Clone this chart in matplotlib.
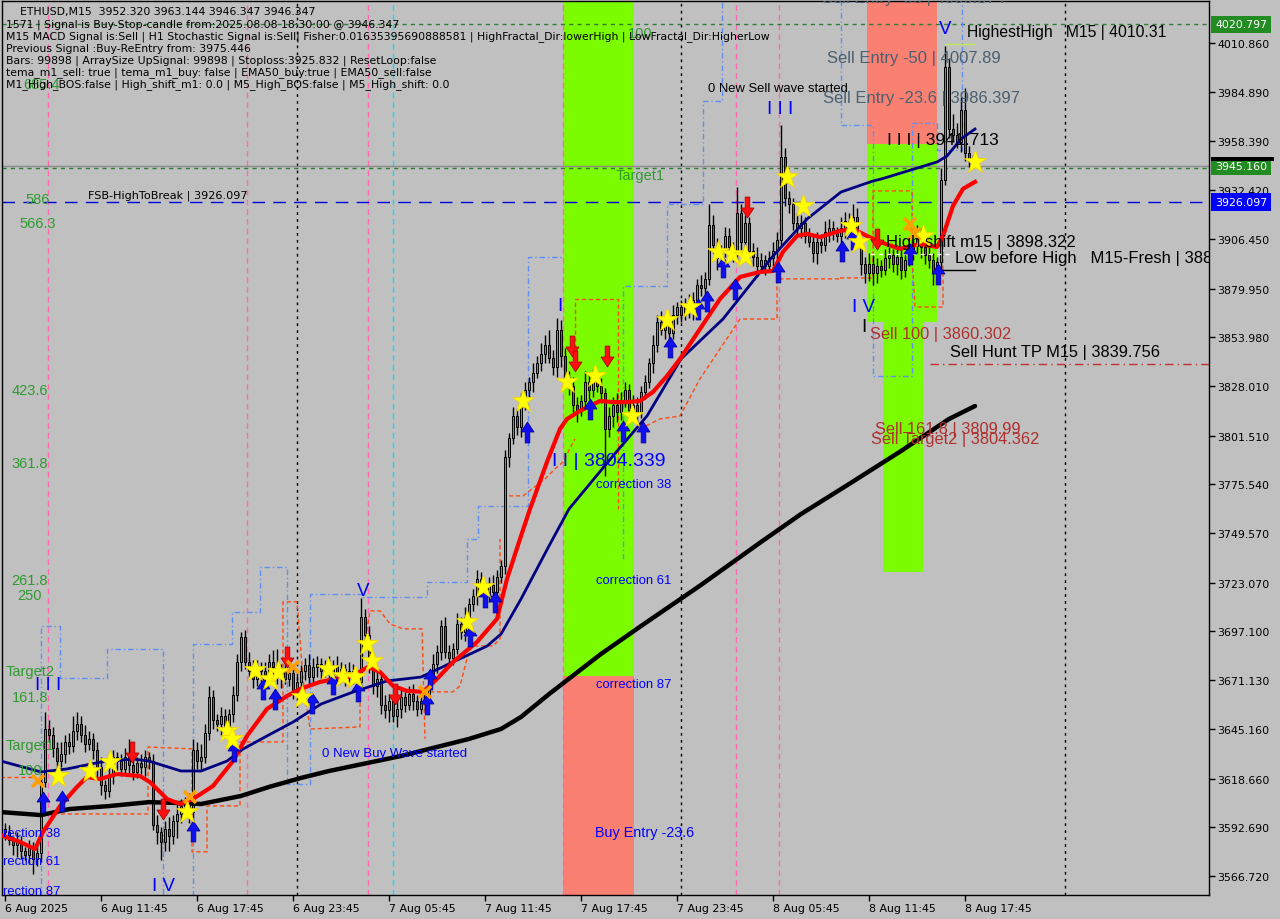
import matplotlib
matplotlib.use("Agg")
import matplotlib.pyplot as plt
from matplotlib.path import Path
from matplotlib.patches import Rectangle

# ---------------- data ----------------
first_open = 3592.0
closes = [
    3590, 3586, 3583, 3585, 3580, 3578, 3582, 3576, 3579, 3617,
    3645, 3642, 3635, 3628, 3632, 3638, 3636, 3644, 3648, 3642,
    3637, 3640, 3634, 3625, 3615, 3612, 3620, 3630, 3628, 3624,
    3630, 3626, 3622, 3627, 3625, 3630, 3628, 3594, 3590, 3585,
    3592, 3588, 3596, 3600, 3604, 3606, 3601, 3634, 3628, 3630,
    3643, 3662, 3650, 3648, 3652, 3645, 3653, 3663, 3681, 3694,
    3681, 3676, 3672, 3678, 3676, 3674, 3681, 3678, 3673, 3676,
    3672, 3675, 3666, 3670, 3676, 3679, 3673, 3678, 3680, 3676,
    3678, 3675, 3679, 3674, 3677, 3673, 3676, 3672, 3670, 3705,
    3695, 3680, 3668, 3672, 3658, 3655, 3660, 3652, 3656, 3662,
    3658, 3664, 3660, 3656, 3660, 3664, 3672, 3680, 3686, 3700,
    3686, 3683, 3688, 3701, 3697, 3705, 3712, 3716, 3725, 3720,
    3717, 3722, 3718, 3726, 3732, 3790, 3800, 3812, 3806, 3818,
    3826, 3830, 3835, 3840, 3845, 3850, 3843, 3838, 3858, 3844,
    3833, 3828, 3818, 3815, 3820, 3830, 3826, 3832, 3828, 3824,
    3805, 3812, 3818, 3814, 3820, 3826, 3815, 3818, 3814, 3825,
    3830, 3840, 3850, 3862, 3858, 3862, 3856, 3866, 3870, 3866,
    3872, 3868, 3874, 3882, 3880, 3885, 3914, 3903, 3896, 3900,
    3908, 3902, 3898, 3920, 3905, 3915, 3900, 3897, 3892, 3895,
    3892, 3896, 3900, 3906, 3950, 3928, 3925, 3915, 3912, 3915,
    3908, 3905, 3899, 3905, 3903, 3910, 3912, 3910, 3908, 3912,
    3916, 3913, 3918, 3905, 3893, 3888, 3893, 3888, 3892, 3890,
    3896, 3898, 3893, 3897, 3890, 3895, 3900, 3903, 3908, 3902,
    3898, 3895, 3888, 3894, 3938, 3998, 3965, 3962, 3958, 3975,
    3952, 3948, 3946.347,
]
wick_up = [
    3, 4, 2, 5, 3, 2, 4, 3, 6, 4, 9, 5, 4, 3, 6, 4, 5, 8, 6, 4,
    5, 4, 3, 4, 5, 3, 6, 4, 3, 4, 5, 10, 4, 3, 5, 4, 3, 4, 5, 3,
    4, 6, 3, 5, 4, 3, 5, 6, 4, 7, 5, 6, 4, 3, 5, 4, 3, 5, 4, 3,
    4, 5, 6, 4, 3, 5, 4, 6, 10, 4, 5, 3, 4, 5, 3, 4, 6, 5, 4, 3,
    4, 6, 3, 5, 4, 3, 5, 4, 3, 10, 4, 5, 3, 4, 3, 5, 4, 3, 5, 4,
    3, 4, 5, 3, 4, 3, 4, 5, 4, 3, 5, 4, 3, 6, 4, 5, 3, 4, 5, 4,
    3, 4, 5, 4, 3, 4, 3, 5, 4, 6, 4, 3, 5, 4, 6, 5, 8, 4, 6, 5,
    4, 3, 5, 4, 3, 6, 4, 5, 3, 4, 3, 5, 4, 6, 5, 4, 3, 5, 4, 3,
    4, 3, 5, 4, 6, 3, 4, 5, 3, 4, 3, 5, 4, 3, 5, 4, 11, 5, 4, 3,
    5, 4, 3, 14, 5, 4, 3, 4, 5, 4, 3, 4, 5, 4, 17, 5, 4, 3, 5, 4,
    3, 4, 3, 5, 4, 6, 5, 4, 3, 6, 5, 4, 7, 5, 3, 4, 6, 5, 4, 3,
    5, 4, 3, 6, 4, 5, 4, 3, 6, 4, 3, 5, 4, 3, 6, 11, 5, 8, 6, 7,
    12, 4, 3,
]
wick_dn = [
    4, 3, 5, 6, 4, 3, 5, 8, 4, 5, 3, 4, 5, 4, 3, 5, 4, 3, 5, 4,
    4, 3, 5, 6, 5, 4, 3, 4, 5, 4, 3, 5, 4, 3, 4, 5, 4, 3, 6, 10,
    5, 8, 4, 9, 5, 4, 6, 5, 4, 5, 3, 4, 5, 4, 6, 4, 3, 4, 3, 5,
    4, 3, 5, 4, 6, 4, 3, 5, 4, 6, 3, 4, 5, 3, 4, 5, 4, 3, 5, 4,
    3, 4, 5, 4, 3, 5, 4, 3, 4, 4, 3, 5, 4, 6, 5, 4, 6, 3, 6, 5,
    4, 3, 5, 4, 3, 5, 4, 3, 5, 4, 3, 5, 4, 3, 4, 5, 3, 4, 5, 4,
    3, 4, 5, 4, 3, 4, 5, 3, 4, 5, 3, 4, 5, 3, 4, 5, 3, 4, 5, 6,
    3, 5, 4, 6, 3, 4, 5, 4, 3, 5, 25, 4, 6, 5, 4, 3, 5, 4, 6, 3,
    4, 3, 5, 4, 3, 5, 4, 3, 5, 4, 3, 4, 5, 3, 4, 5, 3, 4, 6, 4,
    3, 5, 4, 3, 5, 4, 3, 5, 6, 4, 5, 3, 4, 5, 3, 4, 5, 4, 3, 5,
    4, 3, 5, 6, 4, 3, 5, 4, 3, 4, 5, 3, 4, 3, 6, 5, 4, 6, 5, 4,
    3, 5, 4, 6, 5, 4, 3, 5, 4, 6, 5, 4, 6, 5, 4, 3, 5, 4, 3, 5,
    4, 3, 2,
]

# slow MA (black)
ma_slow_bar = [-1, 9, 16, 26, 36, 44, 49, 59, 66, 74, 81, 99, 116, 124, 129, 136,
               149, 159, 174, 189, 199, 211, 224, 236, 242.5]
ma_slow_val = [3600.8, 3599.2, 3602.4, 3604.0, 3606.1, 3605.6, 3605.1, 3609.4, 3614.2,
               3619.0, 3622.7, 3630.7, 3639.8, 3645.1, 3651.5, 3663.7, 3685.1, 3700.0,
               3721.9, 3744.8, 3759.7, 3775.7, 3793.3, 3810.4, 3817.3]
# EMA50 (navy)
ma_mid_bar = [-1, 9, 15.5, 24, 32, 36, 44, 49, 55.5, 59.5, 65.5, 72, 79, 87, 95.5, 104,
              112, 120.5, 124, 129, 136, 141, 152, 160.5, 169, 179.5, 192, 200.5, 209,
              217, 219, 233, 235.5, 239, 242.5]
ma_mid_val = [3628.0, 3622.2, 3623.8, 3627.5, 3629.1, 3628.0, 3622.7, 3622.7, 3628.0,
              3634.4, 3641.4, 3648.8, 3658.4, 3664.8, 3670.7, 3672.8, 3680.8, 3689.3,
              3695.7, 3714.4, 3742.7, 3762.4, 3790.7, 3812.0, 3842.4, 3863.7, 3897.3,
              3917.0, 3931.4, 3937.3, 3938.3, 3947.4, 3950.6, 3959.7, 3965.0]
# fast MA (red)
ma_fast_bar = [-0.5, 3.75, 7.5, 9.5, 13.75, 18, 20.5, 23.75, 28, 33.75, 36.25, 40.5,
               43.75, 47, 52, 57, 60.5, 65.5, 70.5, 73.75, 78.75, 87, 90.75, 93.75, 97,
               100.5, 104.5, 108, 112, 118, 123, 125.5, 128.75, 131.25, 135.5, 138.75,
               140.5, 143.75, 148.75, 152, 155.5, 158.75, 162, 165.5, 168.75, 173.75,
               178.75, 183.75, 188.75, 192, 194.5, 198, 200.5, 203.75, 208.75, 212,
               215.5, 218.75, 223.75, 228.75, 233, 234.5, 237, 239.5, 242.5]
ma_fast_val = [3588.1, 3584.9, 3581.1, 3590.2, 3604.0, 3614.2, 3619.5, 3618.4, 3621.1,
               3620.0, 3616.8, 3607.8, 3605.1, 3607.8, 3614.7, 3628.0, 3641.4, 3655.8,
               3662.7, 3666.4, 3670.2, 3673.4, 3678.2, 3675.5, 3668.1, 3665.4, 3664.9,
               3671.8, 3680.8, 3691.5, 3703.8, 3725.1, 3746.4, 3762.4, 3787.5, 3805.1,
               3810.4, 3814.7, 3820.0, 3819.4, 3819.4, 3820.0, 3824.8, 3833.3, 3842.4,
               3858.4, 3874.4, 3886.1, 3888.8, 3889.3, 3899.5, 3908.0, 3909.1, 3907.4,
               3910.7, 3911.7, 3908.0, 3904.8, 3901.1, 3903.7, 3902.1, 3908.0, 3924.0,
               3933.1, 3936.8]

# stepped channel lines (light blue) - segments of (bars, prices)
chan_blue = [
    ([9, 9, 13.75, 13.75, 25.5, 25.5, 39.5, 39.5],
     [3556, 3700.1, 3700.1, 3672.3, 3672.3, 3687.8, 3687.8, 3556]),
    ([47, 47, 56.75, 56.75, 63.75, 63.75, 70.5, 70.5, 76.25, 76.25, 89.25, 89.25,
      105.5, 105.5, 115.5, 115.5, 118.25, 118.25, 130.75, 130.75, 139.5],
     [3556, 3690.4, 3690.4, 3707.5, 3707.5, 3731.5, 3731.5, 3615.8, 3615.8, 3717.1,
      3717.1, 3715.5, 3715.5, 3723.5, 3723.5, 3746.4, 3746.4, 3764.0, 3764.0, 3896.8,
      3896.8]),
    ([154.5, 154.5, 165.5, 165.5, 174.5, 174.5, 179.25, 179.25],
     [3735.8, 3881.3, 3881.3, 3925.1, 3925.1, 3979.9, 3979.9, 4034]),
    ([209, 209, 217, 217, 226.75, 226.75, 233, 233, 239.25, 239.25],
     [4034, 3967.2, 3967.2, 3833.4, 3833.4, 3968.2, 3968.2, 3954, 3954, 4034]),
]
# stepped channel lines (orange)
chan_orange = [
    ([-1.25, 7.5], [3619.5, 3619.5]),
    ([8.75, 35.75, 35.75, 46.75, 46.75, 50.5, 50.5, 58.75, 58.75, 69.5, 69.5, 73, 74.5,
      76.25, 88.75, 88.75, 91.25, 93.75, 96.25, 99.5, 104.25, 105],
     [3599.8, 3599.8, 3635.5, 3634.5, 3579.6, 3579.6, 3604.1, 3604.1, 3638.2, 3638.2,
      3712.9, 3712.9, 3671.8, 3645.1, 3646.2, 3675.5, 3708.1, 3708.1, 3701.1, 3698.5,
      3698.5, 3639.8]),
    ([106.25, 112, 113.75, 115.5, 116.75, 122, 123.75, 123.75],
     [3664.9, 3664.9, 3668.1, 3682.5, 3689.4, 3689.4, 3693.1, 3746.4]),
    ([126, 129.5, 135, 137.5, 139.5, 142.5],
     [3769.4, 3769.4, 3778.4, 3783.8, 3787.5, 3799.8]),
    ([142.5, 142.5, 153.25, 153.25], [3840.8, 3874.4, 3874.4, 3762.4]),
    ([158.75, 163.75, 168.75, 173.75, 183.75, 193, 193, 208.75],
     [3805.1, 3810.4, 3812.0, 3831.8, 3863.7, 3863.7, 3885.1, 3885.1]),
    ([208.75, 217, 217, 226.75, 226.75, 227.5, 234.5, 234.5],
     [3885.6, 3885.6, 3932.0, 3932.0, 3897.3, 3870.1, 3870.1, 3911.7]),
]

star_bar = [13.25, 21.25, 26.25, 45.5, 55.5, 56.75, 62.5, 66.25, 68.25, 74.25, 80.75,
            84.5, 87.5, 90.5, 91.75, 115.5, 119.5, 129.5, 140.5, 147.5, 156.75, 165.5,
            171.25, 178.25, 181.75, 185, 195.5, 199.5, 211.5, 213.5, 229.5, 242.5]
star_val = [3620.1, 3622.7, 3627.5, 3600.8, 3644.0, 3639.7, 3676.5, 3671.7, 3675.5,
            3662.1, 3677.1, 3673.4, 3672.8, 3690.4, 3681.3, 3702.1, 3720.8, 3820.0,
            3830.1, 3833.3, 3812.0, 3863.2, 3870.1, 3899.4, 3898.4, 3897.3, 3939.4,
            3923.9, 3913.3, 3904.7, 3908.0, 3947.4]
up_bar = [9.5, 14.25, 47, 57.25, 64.5, 67.5, 76.75, 82, 88.25, 105.5, 106.25, 116.25,
          120, 122.5, 130.5, 146.25, 154.5, 159.5, 166.25, 173.25, 175.5, 179.5, 182.5,
          193.25, 209.25, 212, 226.25, 233.25]
up_val = [3606.2, 3606.7, 3590.7, 3633.3, 3666.4, 3661.1, 3659.0, 3669.1, 3665.3,
          3658.4, 3671.7, 3694.7, 3715.5, 3712.8, 3803.5, 3815.7, 3804.0, 3803.5, 3848.8,
          3869.0, 3873.3, 3891.4, 3879.7, 3888.8, 3900.0, 3906.4, 3898.4, 3887.7]
dn_bar = [31.75, 39.5, 70.5, 97.5, 141.75, 142.5, 150.5, 185.5, 218]
dn_val = [3632.9, 3602.4, 3683.5, 3663.7, 3849.3, 3841.3, 3844.0, 3923.4, 3906.4]
x_bar = [8.25, 46.25, 72, 105, 226.25, 227.25]
x_val = [3617.4, 3608.8, 3678.1, 3664.8, 3914.3, 3909.0]

price_ticks = [4010.860, 3984.890, 3958.390, 3932.420, 3906.450, 3879.950, 3853.980,
               3828.010, 3801.510, 3775.540, 3749.570, 3723.070, 3697.100, 3671.130,
               3645.160, 3618.660, 3592.690, 3566.720]
time_labels = ["6 Aug 2025", "6 Aug 11:45", "6 Aug 17:45", "6 Aug 23:45", "7 Aug 05:45",
               "7 Aug 11:45", "7 Aug 17:45", "7 Aug 23:45", "8 Aug 05:45", "8 Aug 11:45",
               "8 Aug 17:45"]
bars_per_label = 24

# zones
buy_zone = (139.5, 157.25, 3673.4)            # start, end, split price
sell_zone = (215.5, 233.0, 3957.0, 3862.0)    # start, end, top split, green bottom
sell_zone_inner = (219.5, 229.5, 3862.0, 3728.8)

levels = {"top": 4020.797, "bid": 3945.160, "fsb": 3926.097, "hunt": 3839.756,
          "low_before": 3890.0, "high_shift": 3898.322, "highest": 4010.31}

black_vlines = [73, 169, 265]
pink_vlines = [10.75, 60.5, 90.75, 139.5, 182.75, 193.5]
cyan_vlines = [97]

# ---------------- figure ----------------
W, H = 1280, 920
BG = "#c0c0c0"
fig = plt.figure(figsize=(12.8, 9.2), dpi=100, facecolor=BG)
ax = fig.add_axes([2 / W, (H - 896) / H, (1209 - 2) / W, (896 - 2) / H])
ax.set_facecolor(BG)

def X(px):
    return (px - 5) / 4.0

def Y(py):
    return 4010.86 - (py - 44) * (444.14 / 833.0)

ax.set_xlim(X(2), X(1209))
ax.set_ylim(Y(896), Y(2))

# zones
g1, g2, gs = buy_zone
ax.add_patch(Rectangle((g1, gs), g2 - g1, 600, fc="#7cfc00", ec="none", zorder=0.5))
ax.add_patch(Rectangle((g1, 3400), g2 - g1, gs - 3400, fc="#fa8072", ec="none", zorder=0.5))
s1, s2, st, sb = sell_zone
ax.add_patch(Rectangle((s1, st), s2 - s1, 300, fc="#fa8072", ec="none", zorder=0.5))
ax.add_patch(Rectangle((s1, sb), s2 - s1, st - sb, fc="#7cfc00", ec="none", zorder=0.5))
i1, i2, it, ib = sell_zone_inner
ax.add_patch(Rectangle((i1, ib), i2 - i1, it - ib, fc="#7cfc00", ec="none", zorder=0.5))

# vertical separators
for b in black_vlines:
    ax.axvline(b, color="black", lw=1, ls=(0, (2, 3)), zorder=0.8)
for b in pink_vlines:
    ax.axvline(b, color="#ff69b4", lw=1, ls=(0, (4, 3)), zorder=0.8)
for b in cyan_vlines:
    ax.axvline(b, color="#00e5ee", lw=1, ls=(0, (4, 3)), zorder=0.8)

# stepped channels
for xs, ys in chan_blue:
    ax.plot(xs, ys, color="#5f8ff0", lw=1, ls=(0, (4, 2, 1, 2)), zorder=1.0)
for xs, ys in chan_orange:
    ax.plot(xs, ys, color="#ff4a10", lw=1, ls=(0, (3, 2)), zorder=1.0)

# horizontal levels
ax.axhline(levels["top"], color="#2e7d32", lw=1, ls=(0, (3, 3)), zorder=0.9)
ax.axhline(levels["bid"], color="#8a8a8a", lw=1, zorder=0.9)
ax.axhline(levels["bid"] - 0.8, color="#2e7d32", lw=1, ls=(0, (3, 3)), zorder=0.9)
ax.axhline(levels["fsb"], color="#0000dd", lw=1, ls=(0, (9, 6)), zorder=0.9)
ax.plot([X(930), X(1209)], [levels["hunt"]] * 2, color="#c03030", lw=1,
        ls=(0, (6, 3, 1, 3)), zorder=0.9)
ax.plot([X(935), X(975)], [levels["low_before"]] * 2, color="black", lw=1, zorder=4)
ax.plot([X(870), X(950)], [levels["high_shift"]] * 2, color="white", lw=1,
        ls=(0, (3, 3)), zorder=4)
ax.plot([X(945), X(975)], [levels["highest"]] * 2, color="#c8e65a", lw=1, zorder=4)

# candles
opens = [first_open] + closes[:-1]
for i, (o, c) in enumerate(zip(opens, closes)):
    hi = max(o, c) + wick_up[i]
    lo = min(o, c) - wick_dn[i]
    ax.plot([i, i], [lo, hi], color="black", lw=1.0, zorder=2, solid_capstyle="butt")
    bull = c >= o
    h = max(abs(c - o), 0.4)
    ax.add_patch(Rectangle((i - 0.32, min(o, c)), 0.64, h,
                           fc="#3cb371" if bull else "#cd3333", ec="black",
                           lw=0.7, zorder=2.1))

# moving averages
ax.plot(ma_slow_bar, ma_slow_val, color="black", lw=3.2, zorder=3, solid_capstyle="round")
ax.plot(ma_mid_bar, ma_mid_val, color="#000080", lw=2.0, zorder=3.1)
ax.plot(ma_fast_bar, ma_fast_val, color="#ff0000", lw=3.0, zorder=3.2)

# markers
arrow_up = Path([(-0.22, -1), (0.22, -1), (0.22, 0.05), (0.62, 0.05), (0, 1),
                 (-0.62, 0.05), (-0.22, 0.05), (-0.22, -1)],
                [Path.MOVETO] + [Path.LINETO] * 6 + [Path.CLOSEPOLY])
arrow_dn = Path([(x, -y) for x, y in arrow_up.vertices], arrow_up.codes)
ax.plot(up_bar, up_val, ls="none", marker=arrow_up, ms=15, mfc="#1010ee",
        mec="#0000a0", mew=0.6, zorder=5)
ax.plot(dn_bar, dn_val, ls="none", marker=arrow_dn, ms=15, mfc="#ff1010",
        mec="#b00000", mew=0.6, zorder=5)
ax.plot(star_bar, star_val, ls="none", marker="*", ms=17, mfc="#ffff00",
        mec="#f0d000", mew=0.5, zorder=6)
ax.plot(x_bar, x_val, ls="none", marker="x", ms=9, mec="#ffa000", mew=2.6, zorder=6)

# ---------------- texts ----------------
ARIAL = "Liberation Sans"
TAHOMA = "DejaVu Sans"

def t(px, py, s, color="black", size=11, family=ARIAL, ha="left", va="center", **kw):
    ax.text(X(px), Y(py), s, color=color, fontsize=size, family=family, ha=ha, va=va,
            clip_on=True, zorder=7, **kw)

GREEN = "#2f9a2f"
for px, py, s in [(38, 200, "586"), (38, 224, "566.3"), (30, 391, "423.6"),
                  (30, 464, "361.8"), (30, 581, "261.8"), (30, 596, "250"),
                  (30, 672, "Target2"), (30, 698, "161.8"), (30, 746, "Target1"),
                  (30, 771, "100"), (640, 34, "100"), (640, 176, "Target1"),
                  (42, 85, "685.4")]:
    t(px, py, s, color=GREEN, size=10.5, ha="center")

BLUE = "#0000ff"
for px, py, s in [(48, 686, "I I I"), (163, 887, "I V"), (363, 592, "V"),
                  (560, 307, "I"), (780, 110, "I I I"), (863, 308, "I V"),
                  (945, 30, "V")]:
    t(px, py, s, color=BLUE, size=13.5, ha="center")
t(552, 462, "I I | 3804.339", color=BLUE, size=14)
t(596, 485, "correction 38", color=BLUE, size=9.4)
t(596, 581, "correction 61", color=BLUE, size=9.4)
t(596, 685, "correction 87", color=BLUE, size=9.4)
t(595, 833, "Buy Entry -23.6", color=BLUE, size=10.4)
t(322, 754, "0 New Buy Wave started", color=BLUE, size=9.5)
t(3, 834, "rection 38", color=BLUE, size=9.4)
t(3, 862, "rection 61", color=BLUE, size=9.4)
t(3, 892, "rection 87", color=BLUE, size=9.4)

t(708, 89, "0 New Sell wave started", size=9.4)
t(88, 196, "FSB-HighToBreak | 3926.097", size=8.1, family=TAHOMA)
t(967, 33, "HighestHigh   M15 | 4010.31", size=11.3)
t(887, 141, "I I I | 3941.713", size=12.6)
t(886, 243, "High shift m15 | 3898.322", size=12)
t(955, 259, "Low before High   M15-Fresh | 3889.620", size=12)
t(950, 353, "Sell Hunt TP M15 | 3839.756", size=11.8)
t(864, 328, "I", size=13.5, ha="center")

SLATE = "#4b6070"
t(822, -1, "Sell Entry -38 | 4000.374", color=SLATE, size=12)
t(827, 59, "Sell Entry -50 | 4007.89", color=SLATE, size=12)
t(823, 99, "Sell Entry -23.6 | 3986.397", color=SLATE, size=12)

BROWN = "#b03030"
t(870, 335, "Sell 100 | 3860.302", color=BROWN, size=11.8)
t(875, 430, "Sell 161.8 | 3809.99", color=BROWN, size=11.8)
t(871, 440, "Sell Target2 | 3804.362", color=BROWN, size=11.8)

info = [
    (20, 12, "ETHUSD,M15  3952.320 3963.144 3946.347 3946.347"),
    (6, 25, "1571 | Signal is Buy-Stop-candle from:2025.08.08 18:30:00 @ 3946.347"),
    (6, 37, "M15 MACD Signal is:Sell | H1 Stochastic Signal is:Sell| Fisher:0.01635395690888581 "
            "| HighFractal_Dir:lowerHigh | LowFractal_Dir:HigherLow"),
    (6, 49, "Previous Signal :Buy-ReEntry from: 3975.446"),
    (6, 61, "Bars: 99898 | ArraySize UpSignal: 99898 | Stoploss:3925.832 | ResetLoop:false"),
    (6, 73, "tema_m1_sell: true | tema_m1_buy: false | EMA50_buy:true | EMA50_sell:false"),
    (6, 85, "M1_High_BOS:false | High_shift_m1: 0.0 | M5_High_BOS:false | M5_High_shift: 0.0"),
]
for px, py, s in info:
    fig.text(px / W, 1 - py / H, s, fontsize=7.8, family=TAHOMA, color="black",
             va="center", ha="left", zorder=8)

# ---------------- axes ----------------
for sp in ax.spines.values():
    sp.set_color("black")
    sp.set_linewidth(1)
ax.yaxis.tick_right()
ax.set_yticks(price_ticks)
ax.set_yticklabels([f"{v:.3f}" for v in price_ticks])
ax.tick_params(axis="y", direction="out", length=4, width=1, colors="black",
               labelsize=7.9, pad=2)
ax.set_xticks([k * bars_per_label for k in range(len(time_labels))])
ax.set_xticklabels(time_labels, ha="left")
ax.tick_params(axis="x", direction="out", length=4, width=1, colors="black",
               labelsize=7.9, pad=2)
for lab in ax.get_xticklabels() + ax.get_yticklabels():
    lab.set_family(TAHOMA)

# highlighted price boxes on the right axis
ytr = ax.get_yaxis_transform()
for val, fc in [(levels["top"], "#228b22"), (levels["bid"], "#228b22"),
                (levels["fsb"], "#0000ff")]:
    ax.annotate(f"{val:.3f}", xy=(1.0, val), xycoords=ytr, xytext=(4.5, 0),
                textcoords="offset points", fontsize=7.9, family=TAHOMA, color="white",
                va="center", ha="left", annotation_clip=False,
                bbox=dict(boxstyle="square,pad=0.35", fc=fc, ec="none"))
fig.add_artist(Rectangle((1211 / W, 1 - 162 / H), 63 / W, 4 / H, fc="black", ec="none",
                         transform=fig.transFigure))

fig.savefig("out.png", dpi=100, facecolor=BG)
